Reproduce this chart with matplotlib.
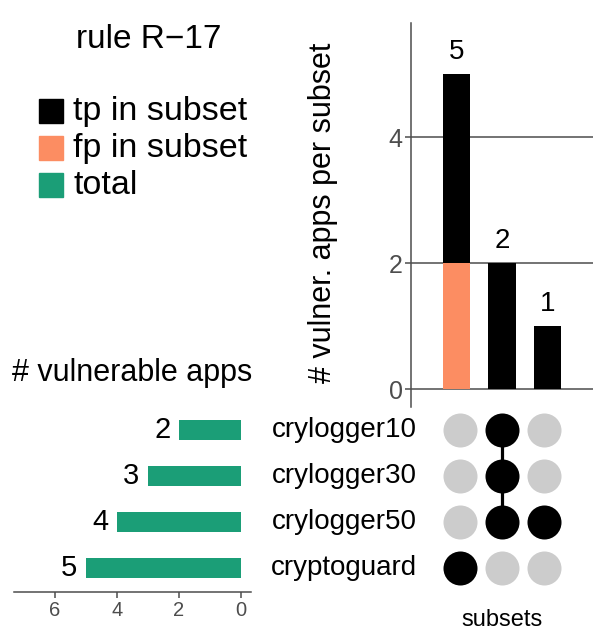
import matplotlib
matplotlib.use("Agg")
import matplotlib.pyplot as plt
from matplotlib.patches import Rectangle
from matplotlib.transforms import blended_transform_factory

plt.rcParams['font.family'] = ['Liberation Sans', 'DejaVu Sans']

# ---- data ----
set_names = ['crylogger10', 'crylogger30', 'crylogger50', 'cryptoguard']
set_sizes = [2, 3, 4, 5]
intersections = [('cryptoguard',),
                 ('crylogger10', 'crylogger30', 'crylogger50'),
                 ('crylogger50',)]
tp_counts = [3, 2, 1]
fp_counts = [2, 0, 0]
legend_labels = ['tp in subset', 'fp in subset', 'total']
title = 'rule R\u221217'

C_TP = '#000000'
C_FP = '#FC8D62'
C_TOT = '#1B9E77'
C_GREY = '#4D4D4D'
C_EMPTY = '#CCCCCC'

W, H = 598, 642
fig = plt.figure(figsize=(W / 100, H / 100), dpi=100)

def fx(px):
    return px / W

def fy(py):
    return 1 - py / H

# ---- top intersection bars ----
ax_t = fig.add_axes([fx(411), fy(406.7), fx(593) - fx(411), fy(23.3) - fy(406.7)])
xs = list(range(len(intersections)))
totals = [t + f for t, f in zip(tp_counts, fp_counts)]
ax_t.bar(xs, fp_counts, width=0.6, color=C_FP, zorder=3)
ax_t.bar(xs, tp_counts, bottom=fp_counts, width=0.6, color=C_TP, zorder=3)
for x, tot in zip(xs, totals):
    ax_t.annotate(str(tot), (x, tot), xytext=(0, 11), textcoords='offset points',
                  ha='center', va='baseline', fontsize=20, color='black')
ax_t.set_xlim(-0.99, 2.99)
ax_t.set_ylim(-0.28, 5.81)
ax_t.set_yticks([0, 2, 4])
ax_t.set_xticks([])
ax_t.yaxis.grid(True, color=C_GREY, linewidth=1.1, zorder=0)
ax_t.set_axisbelow(True)
for s in ['top', 'right', 'bottom']:
    ax_t.spines[s].set_visible(False)
ax_t.spines['left'].set_color(C_GREY)
ax_t.spines['left'].set_linewidth(1.1)
ax_t.tick_params(axis='y', colors=C_GREY, labelsize=18, length=4, width=1.1, pad=2)
fig.text(fx(323), fy(212.5), '# vulner. apps per subset', rotation=90,
         ha='center', va='center', fontsize=22)

# ---- matrix ----
ax_m = fig.add_axes([fx(420), fy(591.7), fx(580) - fx(420), fy(407) - fy(591.7)])
ax_m.set_xlim((420 - 459.7) / 42, (580 - 459.7) / 42)
ax_m.set_ylim(-0.507, 3.499)
ax_m.axis('off')
nrows = len(set_names)
row_y = {name: nrows - 1 - i for i, name in enumerate(set_names)}
for j, members in enumerate(intersections):
    ys_in = [row_y[m] for m in members]
    if len(ys_in) > 1:
        ax_m.plot([j, j], [min(ys_in), max(ys_in)], color='black', linewidth=2.3, zorder=2)
    for name in set_names:
        filled = name in members
        ax_m.scatter([j], [row_y[name]], s=600, color='black' if filled else C_EMPTY,
                     linewidths=0, zorder=3)

# set names
tr = blended_transform_factory(fig.transFigure, ax_m.transData)
for name in set_names:
    fig.text(fx(416.7), row_y[name], name, transform=tr, ha='right', va='center',
             fontsize=20)

fig.text(fx(501.7), fy(620), 'subsets', ha='center', va='center', fontsize=17)

# ---- left set size bars ----
ax_l = fig.add_axes([fx(14), fy(591.7), fx(250.7) - fx(14), fy(407) - fy(591.7)])
ys = [row_y[n] for n in set_names]
ax_l.barh(ys, set_sizes, height=0.44, color=C_TOT)
for y, v in zip(ys, set_sizes):
    ax_l.annotate(str(v), (v, y), xytext=(-6, 0), textcoords='offset points',
                  ha='right', va='center', fontsize=21)
ax_l.set_xlim(7.31, -0.32)
ax_l.set_ylim(-0.507, 3.499)
ax_l.set_xticks([0, 2, 4, 6])
ax_l.set_yticks([])
for s in ['top', 'right', 'left']:
    ax_l.spines[s].set_visible(False)
ax_l.spines['bottom'].set_color(C_GREY)
ax_l.spines['bottom'].set_linewidth(1.1)
ax_l.tick_params(axis='x', colors=C_GREY, labelsize=14.5, length=4, width=1.1, pad=3)
fig.text(fx(11.7), fy(373), '# vulnerable apps', ha='left', va='center', fontsize=22)

# ---- legend ----
fig.text(fx(148.3), fy(40), title, ha='center', va='center', fontsize=24)
leg_colors = [C_TP, C_FP, C_TOT]
leg_y = [111.3, 148, 185.5]
for lab, col, cy in zip(legend_labels, leg_colors, leg_y):
    fig.patches.append(Rectangle((fx(38.5), fy(cy + 12)), fx(24.5), 24 / H,
                                 transform=fig.transFigure, color=col))
    fig.text(fx(73), fy(cy), lab, ha='left', va='center', fontsize=24.5)

fig.savefig('out.png', dpi=100)
